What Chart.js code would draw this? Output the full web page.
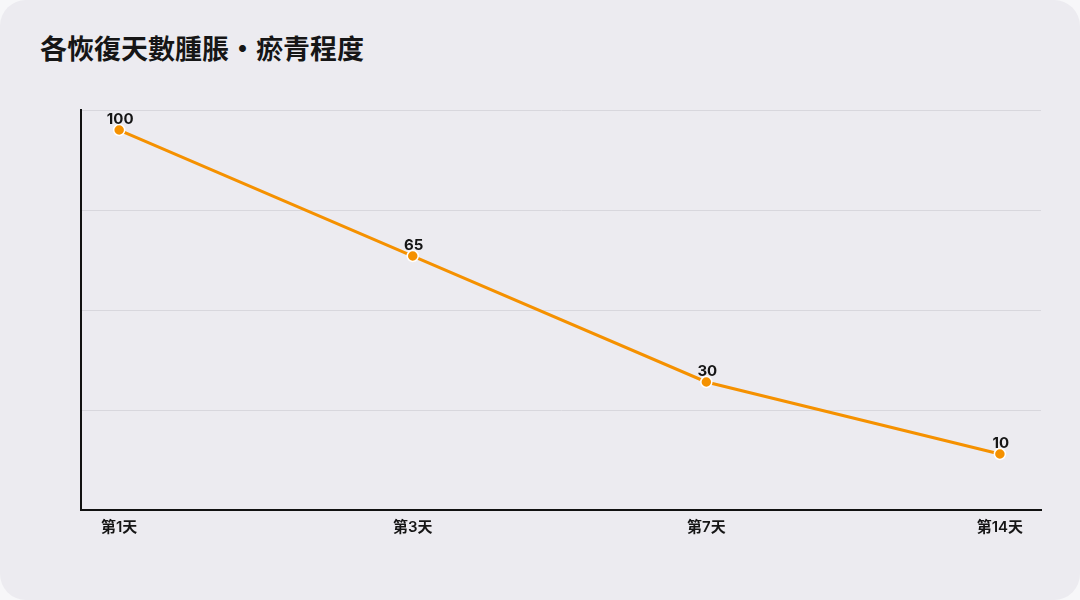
<!DOCTYPE html>
<html>
<head>
<meta charset="utf-8">
<script src="https://cdn.jsdelivr.net/npm/chart.js@4/dist/chart.umd.min.js"></script>
<style>
  html, body { margin: 0; padding: 0; background: #f7f7f9; }
  #card {
    position: relative;
    width: 1080px;
    height: 600px;
    background: #ecebf0;
    border-radius: 26px;
    overflow: hidden;
  }
  #title {
    position: absolute;
    left: 40px;
    top: 28px;
    margin: 0;
    font-family: "Noto Sans CJK TC", "Noto Sans", sans-serif;
    font-size: 27px;
    font-weight: 700;
    line-height: 40px;
    color: #161616;
  }
  #chart { position: absolute; left: 0; top: 0; }
</style>
</head>
<body>
<div id="card">
  <h1 id="title">各恢復天數腫脹・瘀青程度</h1>
  <canvas id="chart" width="1080" height="600"></canvas>
</div>
<script>
const days = ["第1天", "第3天", "第7天", "第14天"];
const swelling = [100, 65, 30, 10];

const orange = "#f59100";
const fontFamily = 'Inter, "Noto Sans CJK TC", "Noto Sans", sans-serif';

// value labels above each point
const valueLabels = {
  id: "valueLabels",
  afterDatasetsDraw(chart) {
    const ctx = chart.ctx;
    const meta = chart.getDatasetMeta(0);
    ctx.save();
    ctx.font = "700 15px " + fontFamily;
    ctx.fillStyle = "#151515";
    ctx.textAlign = "center";
    ctx.textBaseline = "bottom";
    meta.data.forEach((pt, i) => {
      ctx.fillText(String(swelling[i]), pt.x + 1, pt.y - 3);
    });
    ctx.restore();
  }
};

const ctx = document.getElementById("chart");

new Chart(ctx, {
  type: "line",
  data: {
    datasets: [{
      label: "腫脹・瘀青程度",
      data: swelling.map((v, i) => ({ x: i, y: v })),
      borderColor: orange,
      borderWidth: 3,
      backgroundColor: orange,
      pointBackgroundColor: orange,
      pointBorderColor: "#ffffff",
      pointBorderWidth: 1.5,
      pointRadius: 5.5,
      tension: 0
    }]
  },
  options: {
    responsive: false,
    animation: false,
    layout: { padding: { top: 110, right: 39, left: 0, bottom: 0 } },
    plugins: {
      legend: { display: false },
      tooltip: { enabled: false }
    },
    scales: {
      x: {
        type: "linear",
        min: -0.13,
        max: 3.14,
        afterBuildTicks: (scale) => {
          scale.ticks = days.map((_, i) => ({ value: i }));
        },
        afterFit: (scale) => { scale.height = 90; },
        ticks: {
          autoSkip: false,
          maxRotation: 0,
          padding: 8,
          color: "#151515",
          font: { family: fontFamily, size: 15, weight: "600" },
          callback: (v) => days[v] || ""
        },
        grid: { display: false, drawTicks: false },
        border: { display: true, color: "#111111", width: 2 }
      },
      y: {
        min: -5.56,
        max: 105.56,
        afterFit: (scale) => { scale.width = 81; },
        ticks: { display: false, count: 5 },
        grid: { color: "#d8d7dd", lineWidth: 1, drawTicks: false },
        border: { display: true, color: "#111111", width: 2 }
      }
    }
  },
  plugins: [valueLabels]
});
</script>
</body>
</html>
